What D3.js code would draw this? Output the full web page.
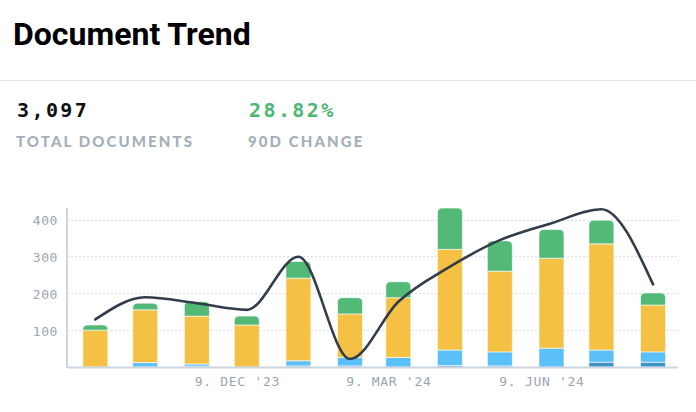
<!DOCTYPE html>
<html><head><meta charset="utf-8">
<script src="https://cdn.jsdelivr.net/npm/d3@7"></script>
<style>
html,body{margin:0;padding:0;background:#fff;}
svg{display:block;}
</style></head>
<body>
<svg id="chart" width="696" height="412"></svg>
<script>
const months = ["2023-09-15","2023-10-15","2023-11-15","2023-12-15","2024-01-15","2024-02-15","2024-03-15","2024-04-15","2024-05-15","2024-06-15","2024-07-15","2024-08-15"];
const darkBlue = [0, 0, 2, 0, 3, 3, 0, 4, 3, 0, 13, 13];
const lightBlue = [0, 12, 6, 0, 14, 23, 26, 42, 38, 51, 33, 28];
const yellow = [100, 143, 130, 114, 224, 118, 162, 273, 219, 244, 288, 127];
const green = [14, 18, 39, 24, 45, 44, 43, 112, 82, 78, 64, 33];
const trend = [129, 189, 173, 155, 299, 22, 177, 272, 344, 390, 428, 224];
const yTicks = [100, 200, 300, 400];
const xTickDates = ["2023-12-09", "2024-03-09", "2024-06-09"];
const seriesKeys = ["darkBlue", "lightBlue", "yellow", "green"];
const seriesColors = ["#3f93c2", "#5bbff8", "#f4c144", "#52b976"];
const totalLabel = "3,097", totalCaption = "TOTAL DOCUMENTS";
const changeLabel = "28.82%", changeCaption = "90D CHANGE";

const parse = d3.utcParse("%Y-%m-%d");
const rows = months.map((m, i) => ({date: parse(m), darkBlue: darkBlue[i], lightBlue: lightBlue[i], yellow: yellow[i], green: green[i], trend: trend[i]}));

const svg = d3.select("#chart");

// Header
svg.append("text").attr("x", 13).attr("y", 45)
  .style("font-family", "Roboto, 'Noto Sans', sans-serif").style("font-weight", 700)
  .style("font-size", "32px").attr("fill", "#000").text("Document Trend");
svg.append("line").attr("x1", 0).attr("x2", 696).attr("y1", 80.5).attr("y2", 80.5)
  .attr("stroke", "#e3e8ec").attr("stroke-width", 1);

const kpi = [{x: 17, v: totalLabel, c: totalCaption, col: "#111"}, {x: 249, v: changeLabel, c: changeCaption, col: "#4db774"}];
kpi.forEach(k => {
  svg.append("text").attr("x", k.x).attr("y", 117)
    .style("font-family", "'DejaVu Sans Mono', monospace").style("font-weight", 700)
    .style("font-size", "20px").style("letter-spacing", "2.4px").attr("fill", k.col).text(k.v);
  svg.append("text").attr("x", k.x - 1).attr("y", 147)
    .style("font-family", "Lato, 'Noto Sans', sans-serif").style("font-weight", 900)
    .style("font-size", "15px").style("letter-spacing", "2.1px").attr("fill", "#a3afbb").text(k.c);
});

// Chart
const left = 67, right = 678, bottom = 367;
const x = d3.scaleUtc().domain([parse("2023-08-29"), parse("2024-08-30")]).range([left, right]);
const y = d3.scaleLinear().domain([0, 450]).range([bottom, bottom - 450 * 0.36875]);
const barW = 25;

// grid
svg.append("g").selectAll("line").data(yTicks).join("line")
  .attr("x1", left).attr("x2", right).attr("y1", d => Math.round(y(d)) + 0.5).attr("y2", d => Math.round(y(d)) + 0.5)
  .attr("stroke", "#d9dfe5").attr("stroke-width", 1).attr("stroke-dasharray", "2,2");

// y axis labels
const yAxis = d3.axisLeft(y).tickValues(yTicks).tickSize(0).tickPadding(9);
const gy = svg.append("g").attr("transform", `translate(${left},0)`).call(yAxis);
gy.select(".domain").remove();
gy.selectAll("text").attr("dy", "0.65em").attr("y", -3)
  .style("font-family", "'DejaVu Sans Mono', monospace").style("font-size", "13px")
  .style("letter-spacing", "0.6px").attr("fill", "#9aa6b2");

// x axis
const fmt = d3.utcFormat("%-d. %b '%y");
const xAxis = d3.axisBottom(x).tickValues(xTickDates.map(parse)).tickSize(0).tickPadding(10)
  .tickFormat(d => fmt(d).toUpperCase());
const gx = svg.append("g").attr("transform", `translate(0,${bottom})`).call(xAxis);
gx.select(".domain").remove();
gx.selectAll("text")
  .style("font-family", "'DejaVu Sans Mono', monospace").style("font-size", "13px")
  .style("letter-spacing", "0.7px").attr("fill", "#9aa6b2");

// bars
const stack = d3.stack().keys(seriesKeys)(rows);
function roundTop(x0, y0, w, h, r) {
  r = Math.min(r, h, w / 2);
  return `M${x0},${y0 + h}V${y0 + r}Q${x0},${y0} ${x0 + r},${y0}H${x0 + w - r}Q${x0 + w},${y0} ${x0 + w},${y0 + r}V${y0 + h}Z`;
}
stack.forEach((layer, li) => {
  const isTop = li === stack.length - 1;
  svg.append("g").selectAll("path").data(layer.filter(d => d[1] > d[0])).join("path")
    .attr("d", d => {
      const x0 = x(d.data.date) - barW / 2, y0 = y(d[1]), h = y(d[0]) - y(d[1]);
      return isTop ? roundTop(x0, y0, barW, h, 5) : `M${x0},${y0}h${barW}v${h}h${-barW}Z`;
    })
    .attr("fill", seriesColors[li]).attr("stroke", "#fff").attr("stroke-opacity", 0.6).attr("stroke-width", 1);
});

// axis lines
svg.append("line").attr("x1", left).attr("x2", left).attr("y1", 208).attr("y2", bottom + 1)
  .attr("stroke", "#ccd6e3").attr("stroke-width", 2);
svg.append("line").attr("x1", left).attr("x2", right).attr("y1", bottom + 0.5).attr("y2", bottom + 0.5)
  .attr("stroke", "#ccd6e3").attr("stroke-width", 2);

// trend line
const line = d3.line().x(d => x(d.date)).y(d => y(d.trend)).curve(d3.curveMonotoneX);
svg.append("path").datum(rows).attr("d", line).attr("fill", "none")
  .attr("stroke", "#323d4b").attr("stroke-width", 2.6).attr("stroke-linecap", "round");
</script>
</body></html>
